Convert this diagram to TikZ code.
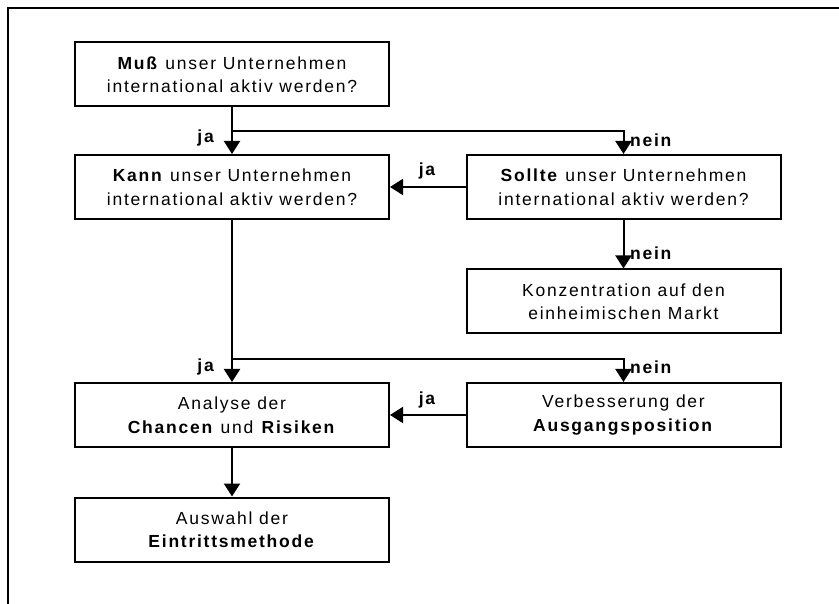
\documentclass[tikz,border=0pt]{standalone}
\usepackage{fontspec}
\setmainfont{Liberation Sans}[LetterSpace=10]
\usetikzlibrary{arrows.meta}
\begin{document}
\begin{tikzpicture}[x=1pt,y=-1pt,
  box/.style={draw,line width=2pt,rectangle,minimum width=314pt,minimum height=64pt,
    align=center,inner sep=0pt,font=\fontsize{17.5}{23.5}\selectfont},
  arr/.style={line width=2pt,-{Triangle[width=16pt,length=13pt]}},
  lab/.style={font=\fontsize{17.5}{20}\selectfont\bfseries,inner sep=0pt}]
\useasboundingbox (0,0) rectangle (839,604);
\draw[line width=2.2pt] (8,604) -- (8,8) -- (839,8);
\node[box] (b1) at (232,74.5) {\textbf{Muß} unser Unternehmen\\international aktiv werden?};
\node[box] (b2) at (232,187) {\textbf{Kann} unser Unternehmen\\international aktiv werden?};
\node[box] (b3) at (623.5,187) {\textbf{Sollte} unser Unternehmen\\international aktiv werden?};
\node[box] (b4) at (623.5,301.5) {Konzentration auf den\\einheimischen Markt};
\node[box] (b5) at (232,415) {Analyse der\\\textbf{Chancen} und \textbf{Risiken}};
\node[box] (b6) at (623.5,415) {Verbesserung der\\\textbf{Ausgangsposition}};
\node[box] (b7) at (232,529.5) {Auswahl der\\\textbf{Eintrittsmethode}};
\coordinate (j1) at (232,131);
\coordinate (j2) at (232,359);
\draw[arr] (b1) -- (b2);
\draw[arr] (j1) -| (b3);
\draw[arr] (b3) -- (b2);
\draw[arr] (b3) -- (b4);
\draw[arr] (b2) -- (b5);
\draw[arr] (j2) -| (b6);
\draw[arr] (b6) -- (b5);
\draw[arr] (b5) -- (b7);
\node[lab,anchor=east] (l1) at (214,138) {ja};
\node[lab,anchor=west] (l2) at (630,140) {nein};
\node[lab,anchor=center] (l3) at (427,171) {ja};
\node[lab,anchor=west] (l4) at (630,253) {nein};
\node[lab,anchor=east] (l5) at (214,367) {ja};
\node[lab,anchor=west] (l6) at (630,367) {nein};
\node[lab,anchor=center] (l7) at (427,400) {ja};
\end{tikzpicture}
\end{document}
